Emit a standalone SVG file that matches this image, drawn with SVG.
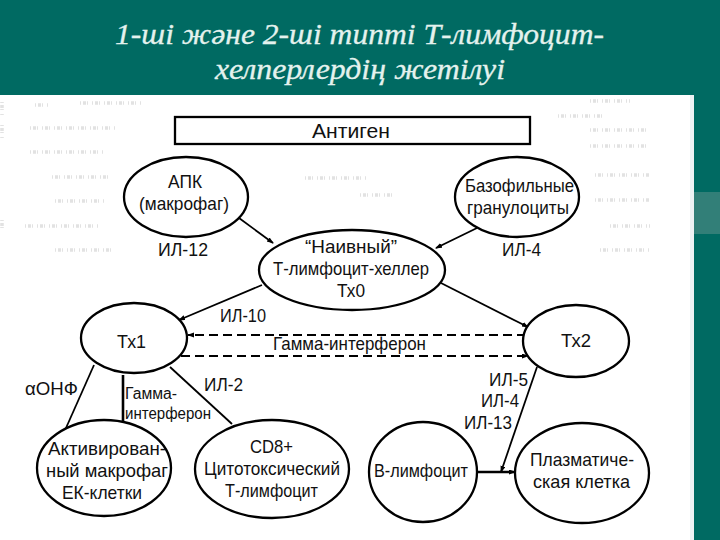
<svg xmlns="http://www.w3.org/2000/svg" width="720" height="540" viewBox="0 0 720 540">
<defs>
<marker id="arr" markerWidth="8" markerHeight="7" refX="6" refY="2.5" orient="auto" markerUnits="userSpaceOnUse"><path d="M0,0 L7,2.5 L0,5 Z" fill="#000"/></marker>
</defs>
<style>
.n{fill:#fff;stroke:#000;stroke-width:2.3}
.t{font-family:"Liberation Sans",Arial,sans-serif;font-size:19px;fill:#111;text-anchor:start}
.l{fill:none;stroke:#000;stroke-width:1.8}
.b{fill:none;stroke:#000;stroke-width:2.6}
.d{fill:none;stroke:#000;stroke-width:1.8;stroke-dasharray:9 5}
.s{fill:none;stroke:#e2e2e2;stroke-width:3.5;stroke-dasharray:1 2 3 1 1 4}
.h{font-family:"Liberation Serif","Times New Roman",serif;font-style:italic;font-size:30px;fill:#e4f2ee;text-anchor:start;stroke:#e4f2ee;stroke-width:.3}
</style>
<rect width="720" height="540" fill="#006a62"/>
<rect x="694" y="192" width="26" height="42" fill="#327f78"/>
<rect x="0" y="95" width="694" height="445" fill="#fff"/>
<rect x="690" y="95" width="4" height="445" fill="#eef2f4"/>
<text class="h" x="115" y="44" textLength="489" lengthAdjust="spacingAndGlyphs">1-ші және 2-ші типті Т-лимфоцит-</text>
<text class="h" x="215" y="79" textLength="290" lengthAdjust="spacingAndGlyphs">хелперлердің жетілуі</text>
<g id="speckle">
<path class="s" d="M35,105H50M80,103H143M30,128H115M30,152H105M52,177H110M55,201H105M25,226H100M55,250H115M2,102V115M2,125V140M2,220V232"/>
<path class="s" d="M590,101H630M558,116H605M590,130H650M590,146H650M595,175H650M595,200H650M610,226H650M600,250H650"/>
<path class="s" d="M305,178H368M360,195H392"/>
</g>
<g id="connectors">
<path class="l" d="M239,218L273,243" marker-end="url(#arr)"/>
<path class="l" d="M477,228L436,248" marker-end="url(#arr)"/>
<path class="l" d="M262,285L179,320" marker-end="url(#arr)"/>
<path class="l" d="M441,283L528,327" marker-end="url(#arr)"/>
<path class="d" d="M526,335H188" marker-end="url(#arr)"/>
<path class="d" d="M181,356H528" marker-end="url(#arr)"/>
<path class="l" d="M94,365L66,428"/>
<path class="b" d="M123,375V422"/>
<path class="l" d="M170,367L232,424"/>
<path class="l" d="M537,367L501,472" marker-end="url(#arr)"/>
<path class="b" d="M477,472H515" marker-end="url(#arr)"/>
</g>
<g id="antigen"><rect class="n" x="175" y="117" width="355" height="27"/><text class="t" x="312" y="138" textLength="78" lengthAdjust="spacingAndGlyphs" style="font-size:21px">Антиген</text></g>
<g id="apc"><ellipse class="n" cx="186" cy="197" rx="62" ry="40"/><text class="t" x="168" y="188" textLength="34" lengthAdjust="spacingAndGlyphs">АПК</text><text class="t" x="139" y="210" textLength="90" lengthAdjust="spacingAndGlyphs">(макрофаг)</text></g>
<g id="basophils"><ellipse class="n" cx="517" cy="197" rx="62" ry="40"/><text class="t" x="465" y="192" textLength="109" lengthAdjust="spacingAndGlyphs">Базофильные</text><text class="t" x="467" y="214" textLength="102" lengthAdjust="spacingAndGlyphs">гранулоциты</text></g>
<g id="naive"><ellipse class="n" cx="352" cy="270" rx="93" ry="40"/><text class="t" x="305" y="253" textLength="92" lengthAdjust="spacingAndGlyphs">“Наивный”</text><text class="t" x="273" y="275" textLength="156" lengthAdjust="spacingAndGlyphs">Т-лимфоцит-хеллер</text><text class="t" x="337" y="297" textLength="28" lengthAdjust="spacingAndGlyphs">Тх0</text></g>
<g id="th1"><ellipse class="n" cx="134" cy="338" rx="53" ry="35"/><text class="t" x="117" y="348" textLength="29" lengthAdjust="spacingAndGlyphs">Тх1</text></g>
<g id="th2"><ellipse class="n" cx="576" cy="341" rx="53" ry="36"/><text class="t" x="561" y="347" textLength="30" lengthAdjust="spacingAndGlyphs">Тх2</text></g>
<g id="macrophage"><ellipse class="n" cx="104" cy="468" rx="67" ry="48"/><text class="t" x="48" y="455" textLength="118" lengthAdjust="spacingAndGlyphs">Активирован-</text><text class="t" x="46" y="477" textLength="122" lengthAdjust="spacingAndGlyphs">ный макрофаг</text><text class="t" x="62" y="499" textLength="80" lengthAdjust="spacingAndGlyphs">ЕК-клетки</text></g>
<g id="cd8"><ellipse class="n" cx="272" cy="469" rx="77" ry="49"/><text class="t" x="250" y="453" textLength="43" lengthAdjust="spacingAndGlyphs">CD8+</text><text class="t" x="204" y="475" textLength="136" lengthAdjust="spacingAndGlyphs">Цитотоксический</text><text class="t" x="225" y="497" textLength="93" lengthAdjust="spacingAndGlyphs">Т-лимфоцит</text></g>
<g id="bcell"><ellipse class="n" cx="423" cy="472" rx="54" ry="50"/><text class="t" x="374" y="477" textLength="94" lengthAdjust="spacingAndGlyphs">В-лимфоцит</text></g>
<g id="plasma"><ellipse class="n" cx="582" cy="473" rx="67" ry="50"/><text class="t" x="530" y="466" textLength="104" lengthAdjust="spacingAndGlyphs">Плазматиче-</text><text class="t" x="533" y="488" textLength="97" lengthAdjust="spacingAndGlyphs">ская клетка</text></g>
<g id="labels">
<text class="t" x="158" y="256" textLength="50" lengthAdjust="spacingAndGlyphs">ИЛ-12</text>
<text class="t" x="502" y="256" textLength="39" lengthAdjust="spacingAndGlyphs">ИЛ-4</text>
<text class="t" x="220" y="322" textLength="46" lengthAdjust="spacingAndGlyphs">ИЛ-10</text>
<text class="t" x="273" y="350" textLength="153" lengthAdjust="spacingAndGlyphs">Гамма-интерферон</text>
<text class="t" x="25" y="395" textLength="53" lengthAdjust="spacingAndGlyphs">αОНФ</text>
<text class="t" x="125" y="399" textLength="52" lengthAdjust="spacingAndGlyphs" style="font-size:16px">Гамма-</text>
<text class="t" x="125" y="419" textLength="86" lengthAdjust="spacingAndGlyphs" style="font-size:16px">интерферон</text>
<text class="t" x="204" y="391" textLength="39" lengthAdjust="spacingAndGlyphs">ИЛ-2</text>
<text class="t" x="489" y="386" textLength="39" lengthAdjust="spacingAndGlyphs">ИЛ-5</text>
<text class="t" x="481" y="407" textLength="38" lengthAdjust="spacingAndGlyphs">ИЛ-4</text>
<text class="t" x="464" y="429" textLength="48" lengthAdjust="spacingAndGlyphs">ИЛ-13</text>
</g>
</svg>
